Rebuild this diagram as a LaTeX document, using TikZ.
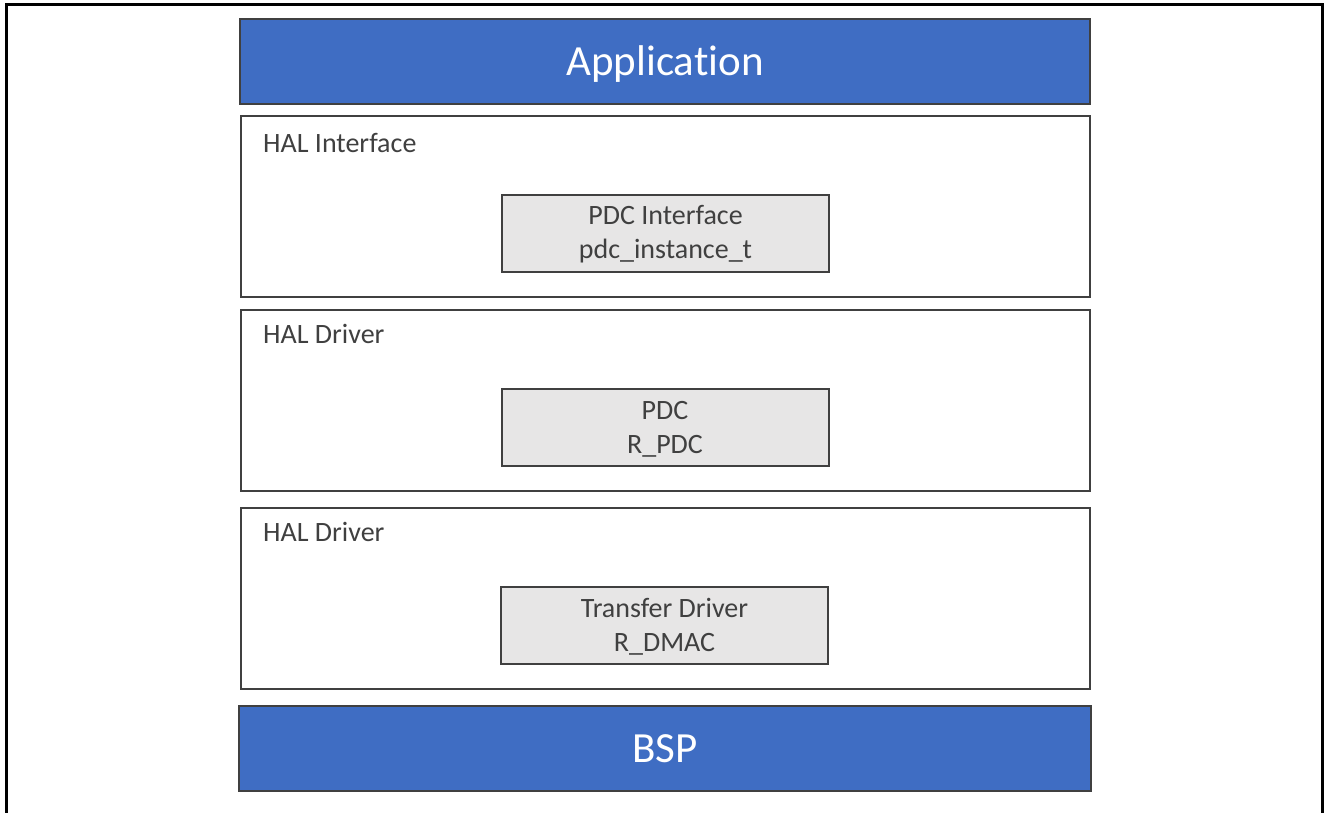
\documentclass[tikz,border=0pt]{standalone}
\usepackage{fontspec}
\setmainfont[Ligatures=NoCommon]{Carlito}
\definecolor{appblue}{HTML}{3F6DC3}
\definecolor{edge}{HTML}{404040}
\definecolor{txt}{HTML}{404040}
\definecolor{boxgray}{HTML}{E7E6E6}
\tikzset{
  bigbar/.style={draw=edge, line width=2.2pt, fill=appblue, text=white, inner sep=0pt,
    font=\fontsize{43}{50}\selectfont, minimum height=85pt, text height=27pt, text depth=0pt},
  layer/.style={draw=edge, line width=2pt, fill=white, inner sep=0pt,
    minimum width=849pt, minimum height=181pt},
  comp/.style={draw=edge, line width=2pt, fill=boxgray, text=txt, inner sep=0pt,
    align=center, font=\fontsize{28}{34}\selectfont, minimum width=327pt, minimum height=77pt,
    text height=54pt, text depth=3pt},
  layerlabel/.style={anchor=base west, inner sep=0pt, text=txt, font=\fontsize{28}{34}\selectfont},
}
\begin{document}
\begin{tikzpicture}[x=1pt,y=-1pt]
\useasboundingbox (0,0) rectangle (1324,812);
\draw[line width=3pt, black] (6,830) -- (6,4.5) -- (1322,4.5) -- (1322,830);
% Application
\node[bigbar, minimum width=850pt] (app) at (665,61.5) {Application};
% HAL Interface layer
\node[layer] (hif) at (665.5,206.5) {};
\node[layerlabel] (hiflbl) at (263,152) {HAL Interface};
\node[comp] (pdcif) at (665.5,233) {PDC Interface\\pdc\_instance\_t};
% HAL Driver layer 1
\node[layer] (hd1) at (665.5,400.5) {};
\node[layerlabel] (hd1lbl) at (263,343) {HAL Driver};
\node[comp] (pdc) at (665,427.5) {PDC\\R\_PDC};
% HAL Driver layer 2
\node[layer] (hd2) at (665.5,598.5) {};
\node[layerlabel] (hd2lbl) at (263,541) {HAL Driver};
\node[comp] (xfer) at (664.5,625.5) {Transfer Driver\\R\_DMAC};
% BSP
\node[bigbar, minimum width=852pt] (bsp) at (665,748.5) {BSP};
\end{tikzpicture}
\end{document}
